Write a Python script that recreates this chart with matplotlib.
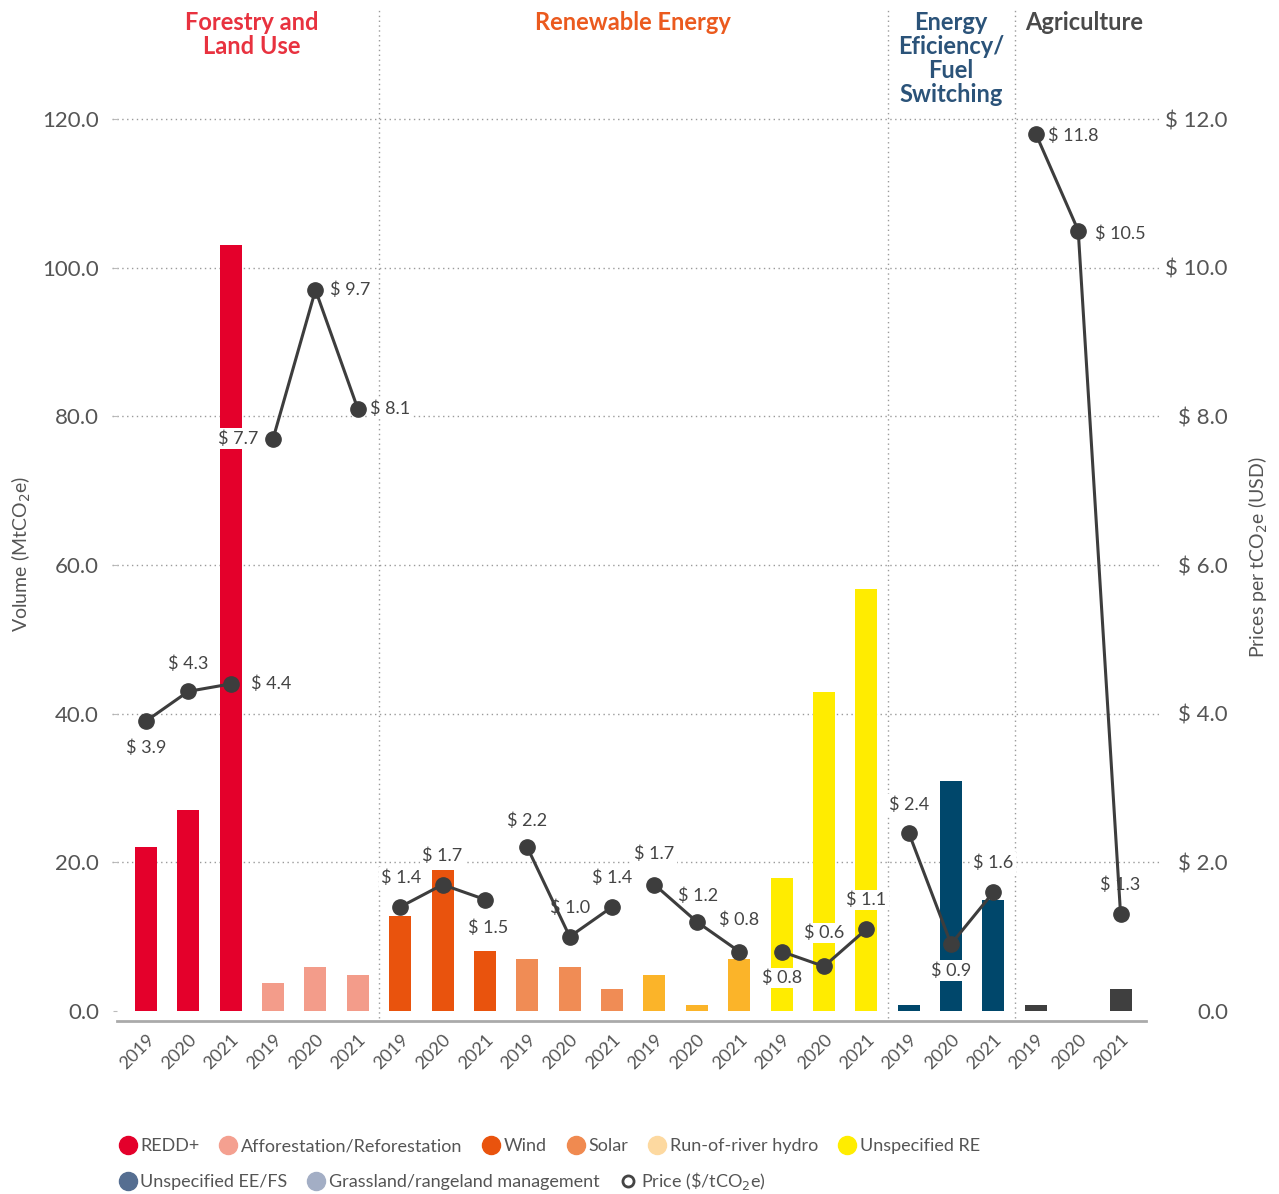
import matplotlib.pyplot as plt
from matplotlib.lines import Line2D
import matplotlib.transforms as mtransforms

plt.rcParams["font.family"] = ["Lato", "DejaVu Sans"]

# ---- data ---------------------------------------------------------------
years = ["2019", "2020", "2021"]
project_types = [
    "REDD+", "Afforestation/Reforestation", "Wind", "Solar",
    "Run-of-river hydro", "Unspecified RE", "Unspecified EE/FS",
    "Grassland/rangeland management",
]
volumes = [
    [22.0, 27.0, 103.0],   # REDD+
    [3.8, 5.9, 4.8],       # Afforestation/Reforestation
    [12.8, 19.0, 8.1],     # Wind
    [7.0, 5.9, 3.0],       # Solar
    [4.8, 0.8, 7.0],       # Run-of-river hydro
    [17.9, 42.9, 56.8],    # Unspecified RE
    [0.8, 31.0, 14.9],     # Unspecified EE/FS
    [0.8, 0.0, 3.0],       # Grassland/rangeland management
]
prices = [
    [3.9, 4.3, 4.4],
    [7.7, 9.7, 8.1],
    [1.4, 1.7, 1.5],
    [2.2, 1.0, 1.4],
    [1.7, 1.2, 0.8],
    [0.8, 0.6, 1.1],
    [2.4, 0.9, 1.6],
    [11.8, 10.5, 1.3],
]
sectors = ["Forestry and\nLand Use", "Renewable Energy",
           "Energy\nEficiency/\nFuel\nSwitching", "Agriculture"]
left_ticks = [0, 20, 40, 60, 80, 100, 120]
right_ticks = [0, 2, 4, 6, 8, 10, 12]

# ---- styles -------------------------------------------------------------
bar_colors = ["#E4002B", "#F39C8A", "#E9530D", "#F08C55",
              "#FBB429", "#FFEC00", "#00476B", "#3F3F3F"]
legend_colors = ["#E4002B", "#F4A090", "#E9530D", "#F08A50",
                 "#FDD9A0", "#FFED00", "#556E91", "#A3AEC5"]
sector_colors = ["#E8323F", "#EB5A1E", "#2B5379", "#4A4A4A"]
sector_x = [2.5, 11.5, 19.0, 22.15]
text_color = "#555555"
line_color = "#3D3D3D"

# label offsets (points) for each price point, in plot order
label_offsets = [
    (0, -19), (0, 20), (29, 0),
    (-25, 0), (25, 0), (23, 0),
    (1, 21), (0, 21), (2, -20),
    (0, 19), (0, 21), (0, 21),
    (0, 22), (1, 19), (0, 23),
    (0, -19), (0, 24), (0, 21),
    (0, 20), (0, -19), (0, 21),
    (27, -1), (30, -2), (0, 21),
]

fig = plt.figure(figsize=(12.79, 11.94), dpi=100)
ax = fig.add_axes([117 / 1279, 1 - 1011 / 1194, (1146 - 117) / 1279, (1011 - 119) / 1194])
ax2 = ax.twinx()

ax.set_xlim(-0.684, 23.60)
ax.set_ylim(0, 120)
ax2.set_ylim(0, 12)

positions = []
k = 0
for t, vals in enumerate(volumes):
    xs = [k + i for i in range(len(years))]
    positions.append(xs)
    ax.bar(xs, vals, width=0.52, color=bar_colors[t], zorder=2)
    k += len(years)

# price lines drawn on the secondary axis
n = 0
for t, ps in enumerate(prices):
    xs = positions[t]
    ax2.plot(xs, ps, color=line_color, lw=2.2, marker="o", ms=11,
             zorder=4, clip_on=False)
    for x, p in zip(xs, ps):
        dx, dy = label_offsets[n]
        ax2.annotate(f"$ {p:.1f}", xy=(x, p), xytext=(dx, dy),
                     textcoords="offset points", ha="center", va="center",
                     fontsize=13, color="#444444", zorder=3,
                     bbox=dict(fc="white", ec="none", pad=1.5))
        n += 1
ax2.set_zorder(ax.get_zorder() + 1)
ax2.patch.set_visible(False)

# dotted horizontal grid lines, extended slightly beyond the axes
trans = mtransforms.blended_transform_factory(ax.transAxes, ax.transData)
for y in left_ticks[1:]:
    ax.plot([-0.005, 1.013], [y, y], transform=trans, color="#9A9A9A",
            lw=1, ls=(0, (1, 2.5)), zorder=1, clip_on=False)

# sector dividers
trans_v = mtransforms.blended_transform_factory(ax.transData, ax.transAxes)
for xd in [5.5, 17.5, 20.5]:
    ax.plot([xd, xd], [-0.008, 1.122], transform=trans_v, color="#9A9A9A",
            lw=1, ls=(0, (1, 2.5)), zorder=1, clip_on=False)

# sector titles
for name, xc, col in zip(sectors, sector_x, sector_colors):
    ax.text(xc, 1.121, name, transform=trans_v, ha="center", va="top",
            fontsize=17, fontweight="bold", color=col, linespacing=1.05)

# axes styling
for a in (ax, ax2):
    for s in ["top", "left", "right", "bottom"]:
        a.spines[s].set_visible(False)
ax.spines["bottom"].set_visible(True)
ax.spines["bottom"].set_position(("outward", 7))
ax.spines["bottom"].set_color("#AAAAAA")
ax.spines["bottom"].set_linewidth(2)

ax.set_xticks([x for xs in positions for x in xs])
ax.set_xticklabels(years * len(volumes), rotation=45, ha="right",
                   rotation_mode="anchor", fontsize=13, color=text_color)
ax.tick_params(axis="x", length=0, pad=8)

ax.set_yticks(left_ticks)
ax.set_yticklabels([f"{v:.1f}" for v in left_ticks], fontsize=16,
                   color=text_color)
ax.tick_params(axis="y", length=3, color="#BBBBBB", pad=10)

ax2.set_yticks(right_ticks)
ax2.set_yticklabels(["0.0"] + [f"$ {v:.1f}" for v in right_ticks[1:]],
                    fontsize=16, color=text_color, ha="right")
ax2.tick_params(axis="y", length=0, pad=59)

# axis titles placed at fixed figure positions
fig.text(21 / 1279, 1 - 554 / 1194, "Volume (MtCO$_2$e)", rotation=90,
         ha="center", va="center", fontsize=14, color=text_color)
fig.text(1258 / 1279, 1 - 557 / 1194, "Prices per tCO$_2$e (USD)", rotation=90,
         ha="center", va="center", fontsize=14, color=text_color)

# legend, two rows
def handle(c):
    return Line2D([], [], marker="o", ls="none", ms=13, mfc=c, mec=c)

row1 = [handle(c) for c in legend_colors[:6]]
row2 = [handle(c) for c in legend_colors[6:]]
row2.append(Line2D([], [], marker="o", ls="none", ms=8, mfc="white",
                   mec="#444444", mew=2))
labels2 = project_types[6:] + ["Price (\\$/tCO$_2$e)"]

leg_kw = dict(loc="center left", frameon=False, handlelength=0.8,
              handletextpad=0.3, columnspacing=1.2, borderpad=0,
              fontsize=13, labelcolor=text_color)
fig.legend(row1, project_types[:6], ncol=6,
           bbox_to_anchor=(0.087, 1 - 1146 / 1194), **leg_kw)
fig.legend(row2, labels2, ncol=3,
           bbox_to_anchor=(0.087, 1 - 1181 / 1194), **leg_kw)

fig.savefig("out.png", dpi=100)
